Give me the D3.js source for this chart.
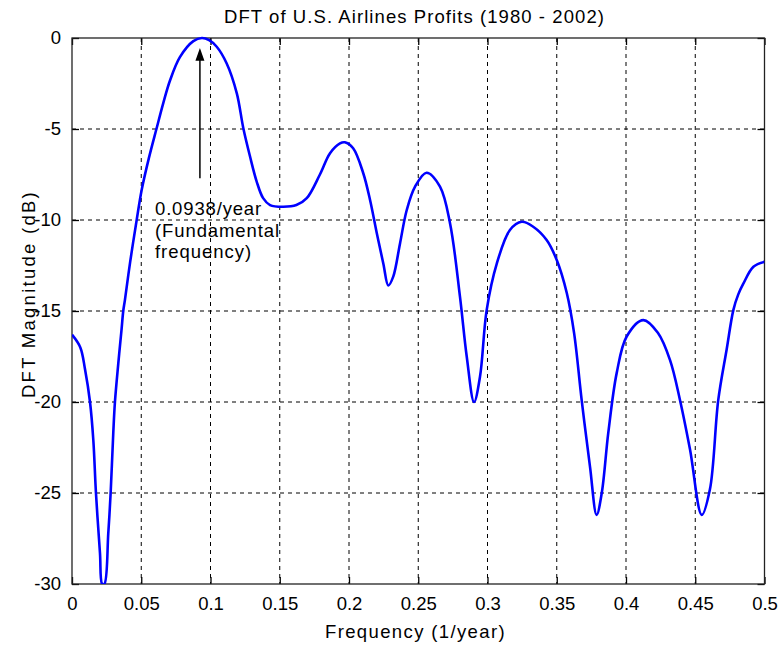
<!DOCTYPE html>
<html><head><meta charset="utf-8">
<script src="https://cdn.jsdelivr.net/npm/d3@7/dist/d3.min.js"></script>
<style>body{margin:0;background:#fff;}svg{display:block;font-family:"Liberation Sans",Arial,sans-serif;}</style>
</head><body><svg id="c" width="782" height="645"></svg>
<script>
const freq = [0.000,0.006,0.0094,0.013,0.0154,0.0173,0.0202,0.0218,0.0234,0.0262,0.0279,0.0298,0.031,0.0334,0.0358,0.037,0.0382,0.042,0.0467,0.0503,0.0555,0.0611,0.066,0.0707,0.0779,0.0876,0.0938,0.0990,0.1045,0.1117,0.119,0.1237,0.1285,0.1334,0.138,0.143,0.1526,0.162,0.1695,0.179,0.1863,0.1935,0.197,0.203,0.2103,0.2152,0.22,0.2248,0.2284,0.232,0.2368,0.2417,0.2477,0.256,0.2657,0.273,0.2801,0.285,0.2903,0.2946,0.2994,0.3067,0.3162,0.3247,0.333,0.3427,0.35,0.3572,0.3625,0.368,0.374,0.3788,0.3825,0.3872,0.3933,0.4005,0.4125,0.423,0.4318,0.439,0.4462,0.4547,0.4606,0.4666,0.4727,0.4775,0.481,0.4847,0.492,0.5];
const magDB = [-16.3,-17.0,-18.2,-20.0,-22.1,-25.0,-28.3,-30.0,-30.0,-27.2,-25.0,-21.7,-20.0,-17.9,-16.0,-15.0,-14.4,-12.3,-10.0,-8.35,-6.6,-4.96,-3.55,-2.35,-1.05,-0.17,0,-0.12,-0.48,-1.4,-3.04,-4.96,-6.5,-7.9,-8.8,-9.18,-9.27,-9.18,-8.8,-7.5,-6.33,-5.79,-5.73,-6.06,-7.43,-8.9,-10.7,-12.4,-13.6,-13.1,-11.3,-9.45,-8.17,-7.4,-8.17,-10.2,-14.2,-17.5,-20.0,-18.6,-14.95,-12.4,-10.55,-10.1,-10.37,-11.1,-12.2,-14.0,-16.2,-19.9,-23.55,-26.2,-25.0,-21.7,-18.4,-16.4,-15.5,-16.2,-17.7,-19.9,-22.6,-26.2,-24.8,-19.9,-17.1,-14.95,-14.1,-13.5,-12.57,-12.3];
const xTicks = [0,0.05,0.1,0.15,0.2,0.25,0.3,0.35,0.4,0.45,0.5];
const yTicks = [0,-5,-10,-15,-20,-25,-30];
const annotFreq = 0.0938;
const annotLines = ["0.0938/year","(Fundamental","frequency)"];
const titleText = "DFT of U.S. Airlines Profits (1980 - 2002)";
const xLabel = "Frequency  (1/year)";
const yLabel = "DFT Magnitude (dB)";

const svg = d3.select("#c");
const L=72, R=764.5, T=38, B=584;
const x = d3.scaleLinear().domain([0,0.5]).range([L,R]);
const y = d3.scaleLinear().domain([-30,0]).range([B,T]);

svg.append("defs").append("clipPath").attr("id","clip").append("rect")
 .attr("x",L).attr("y",T-2).attr("width",R-L).attr("height",B-T+2);

// stretch a text to a target width using letter-spacing
function fit(sel, w){
  sel.each(function(){
    const n = this.getNumberOfChars();
    const nat = this.getComputedTextLength();
    const ls = Math.max(0,(w-nat)/n);
    d3.select(this).style("letter-spacing", ls+"px");
  });
  return sel;
}

// grid
const g = svg.append("g");
g.selectAll(".vg").data(xTicks.slice(1,-1)).join("line")
 .attr("x1",d=>x(d)).attr("x2",d=>x(d)).attr("y1",T).attr("y2",B)
 .attr("stroke","#000").attr("stroke-width",1).attr("stroke-dasharray","4,4");
g.selectAll(".hg").data(yTicks.slice(1,-1)).join("line")
 .attr("y1",d=>y(d)).attr("y2",d=>y(d)).attr("x1",L).attr("x2",R)
 .attr("stroke","#000").attr("stroke-width",1).attr("stroke-dasharray","4,4");

// axes
const fmt = d => String(d);
const xb = d3.axisBottom(x).tickValues(xTicks).tickSize(-7).tickPadding(13).tickFormat(fmt);
const xt = d3.axisTop(x).tickValues(xTicks).tickSize(-7).tickFormat("");
const yl = d3.axisLeft(y).tickValues(yTicks).tickSize(-7).tickPadding(11).tickFormat(fmt);
const yr = d3.axisRight(y).tickValues(yTicks).tickSize(-7).tickFormat("");
function style(sel){sel.selectAll("path").remove();sel.selectAll("line").attr("stroke","#000").attr("stroke-width",1.3);
 sel.selectAll("text").attr("fill","#000").style("font-size","18.5px").style("font-family","'Liberation Sans',Arial,sans-serif");}
svg.append("g").attr("transform",`translate(0,${B})`).call(xb).call(style);
svg.append("g").attr("transform",`translate(0,${T})`).call(xt).call(style);
svg.append("g").attr("transform",`translate(${L},0)`).call(yl).call(style);
svg.append("g").attr("transform",`translate(${R},0)`).call(yr).call(style);
svg.append("rect").attr("x",L).attr("y",T).attr("width",R-L).attr("height",B-T)
 .attr("fill","none").attr("stroke","#222").attr("stroke-width",1.3);

// curve
const line = d3.line().x(d=>x(d[0])).y(d=>y(d[1])).curve(d3.curveCatmullRom.alpha(0.5));
svg.append("path").datum(freq.map((f,i)=>[f,magDB[i]])).attr("clip-path","url(#clip)")
 .attr("d",line).attr("fill","none").attr("stroke","#0000ff").attr("stroke-width",2.6).attr("stroke-linejoin","round");

// annotation arrow
const ax = x(annotFreq)-2;
svg.append("line").attr("x1",ax).attr("x2",ax).attr("y1",y(-7.7)).attr("y2",y(-1.2))
 .attr("stroke","#000").attr("stroke-width",1.5);
svg.append("path").attr("d",`M${ax},${y(-0.55)} L${ax-4.5},${y(-1.25)} L${ax+4.5},${y(-1.25)} Z`).attr("fill","#000");
const aw = [107,125,97];
svg.append("g").selectAll("text").data(annotLines).join("text")
 .attr("x",155).attr("y",(d,i)=>215+i*21.5).text(d=>d)
 .style("font-size","18.5px").attr("fill","#000")
 .each(function(d,i){fit(d3.select(this),aw[i]);});

// title and labels
fit(svg.append("text").attr("x",224).attr("y",23).text(titleText).style("font-size","18.5px"),381);
fit(svg.append("text").attr("x",325).attr("y",638).text(xLabel).style("font-size","18.5px"),181);
fit(svg.append("text").attr("transform","translate(35,398) rotate(-90)").text(yLabel).style("font-size","18.5px"),208);
</script></body></html>
